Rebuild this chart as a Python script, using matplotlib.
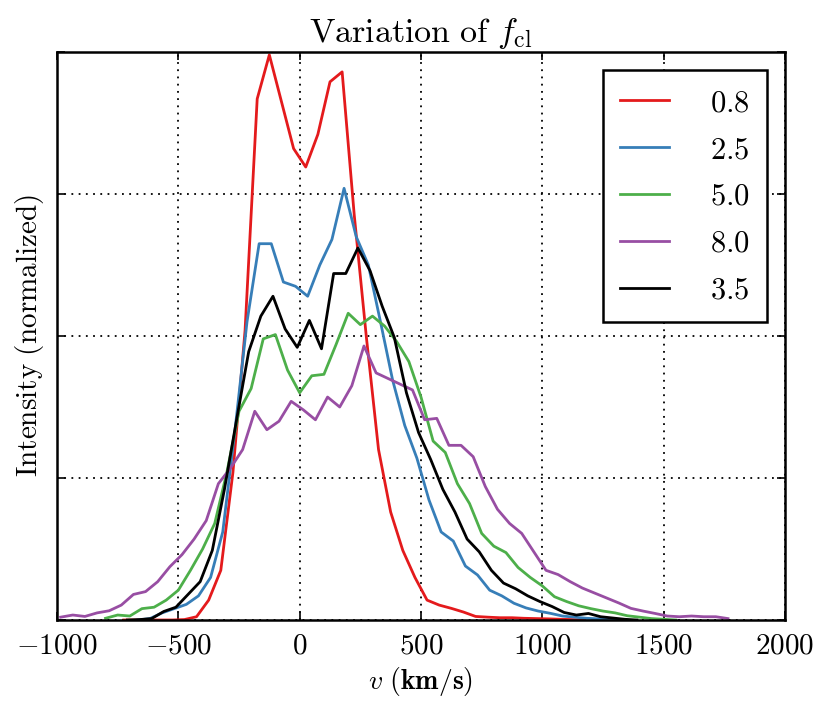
import numpy as np
import matplotlib
matplotlib.use("Agg")
import matplotlib.pyplot as plt

plt.rcParams['mathtext.fontset'] = 'cm'
plt.rcParams['font.family'] = ['DejaVu Serif']

# bin spacing of the velocity histograms (km/s)
step = 50

# first bin centre of each curve and the normalised intensities
red_start = -725
red_vals = [0, 0, 0, 0, 0, 0.003, 0.023, 0.14, 0.35, 1.04,
            2.04, 3.67, 3.98, 3.65, 3.32, 3.19, 3.42, 3.79, 3.86, 2.85,
            1.99, 1.2, 0.76, 0.49, 0.3, 0.14, 0.105, 0.082, 0.056, 0.025,
            0.02, 0.016, 0.016, 0.012, 0.01, 0.008, 0.005, 0.003, 0]

blue_start = -667
blue_vals = [0.0, 0.01, 0.05, 0.08, 0.11, 0.17, 0.3, 0.62, 1.33, 2.1,
             2.65, 2.65, 2.38, 2.35, 2.28, 2.5, 2.68, 3.04, 2.7, 2.5,
             2.1, 1.69, 1.37, 1.14, 0.845, 0.62, 0.556, 0.38, 0.317, 0.21,
             0.17, 0.118, 0.085, 0.063, 0.047, 0.028, 0.02, 0.012, 0.008, 0.004, 0]

green_start = -800
green_vals = [0.012, 0.035, 0.028, 0.08, 0.09, 0.14, 0.21, 0.35, 0.5, 0.68,
              1.04, 1.47, 1.63, 1.98, 2.01, 1.76, 1.6, 1.72, 1.73, 1.94,
              2.16, 2.08, 2.14, 2.07, 1.96, 1.82, 1.57, 1.26, 1.18, 0.96,
              0.82, 0.61, 0.52, 0.475, 0.37, 0.3, 0.24, 0.164, 0.13, 0.1,
              0.08, 0.063, 0.05, 0.03, 0.02, 0.01, 0.005, 0]

purple_start = -985
purple_vals = [0.02, 0.035, 0.025, 0.05, 0.065, 0.105, 0.18, 0.2, 0.27, 0.375,
               0.46, 0.57, 0.7, 0.96, 1.07, 1.2, 1.47, 1.34, 1.4, 1.54,
               1.48, 1.41, 1.57, 1.5, 1.65, 1.93, 1.74, 1.7, 1.66, 1.62,
               1.41, 1.42, 1.23, 1.23, 1.15, 0.94, 0.78, 0.68, 0.61, 0.48,
               0.35, 0.32, 0.27, 0.225, 0.19, 0.155, 0.12, 0.082, 0.063, 0.046,
               0.028, 0.023, 0.028, 0.023, 0.023, 0.01]

black_start = -710
black_vals = [0, 0.003, 0.01, 0.06, 0.09, 0.18, 0.27, 0.49, 0.92, 1.41,
              1.89, 2.14, 2.28, 2.05, 1.92, 2.11, 1.91, 2.44, 2.44, 2.62,
              2.46, 2.21, 1.99, 1.6, 1.32, 1.13, 0.92, 0.76, 0.57, 0.48,
              0.35, 0.26, 0.22, 0.17, 0.13, 0.095, 0.053, 0.035, 0.046, 0.023,
              0.014, 0.005, 0]

labels = ['0.8', '2.5', '5.0', '8.0', '3.5']
colors = ['#e41a1c', '#377eb8', '#4daf4a', '#984ea3', 'black']
starts = [red_start, blue_start, green_start, purple_start, black_start]
series = [red_vals, blue_vals, green_vals, purple_vals, black_vals]

xticks = [-1000, -500, 0, 500, 1000, 1500, 2000]

fig = plt.figure(figsize=(8.3, 7.1), dpi=100)
ax = fig.add_axes([57 / 830, 1 - 620 / 710, 728 / 830, 568 / 710])

for lab, col, x0, vals in zip(labels, colors, starts, series):
    v = x0 + step * np.arange(len(vals))
    ax.plot(v, vals, color=col, lw=2.0, label='$%s$' % lab)

ax.set_xlim(-1000, 2000)
ax.set_ylim(0, 4)
ax.set_xticks(xticks)
ax.set_xticklabels(['$%d$' % t for t in xticks])
ax.set_yticks([0, 1, 2, 3, 4])
ax.set_yticklabels([])
ax.grid(True, color='black', linestyle=(0, (1, 3)), lw=1.3)
ax.tick_params(direction='in', length=6, width=1.2, top=True, right=True,
               labelsize=21, pad=8)
for s in ax.spines.values():
    s.set_linewidth(1.8)

ax.set_title(r'$\mathrm{Variation\ of\ }f_{\mathrm{cl}}$', fontsize=24.5, pad=7)
ax.set_xlabel(r'$v\ \mathbf{(km/s)}$', fontsize=20, labelpad=4)
ax.set_ylabel(r'$\mathrm{Intensity\ (normalized)}$', fontsize=21, labelpad=0)

leg = ax.legend(loc='upper right', fontsize=22, handlelength=1.6,
                handletextpad=1.35, labelspacing=0.52, borderpad=0.55,
                borderaxespad=0.6, fancybox=False, framealpha=1)
leg.get_frame().set_edgecolor('black')
leg.get_frame().set_linewidth(1.8)

fig.savefig('out.png', dpi=100)
